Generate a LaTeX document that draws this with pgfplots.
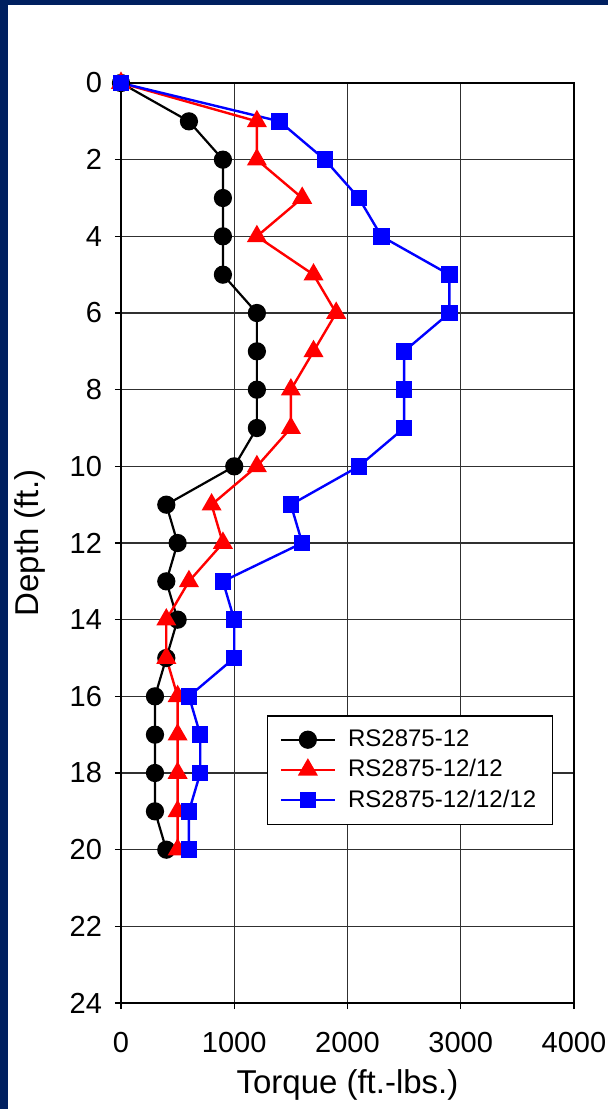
\documentclass[border=0pt]{standalone}
\usepackage{fontspec}
\setmainfont{Liberation Sans}
\usepackage{pgfplots}
\pgfplotsset{compat=1.18}
\definecolor{navy}{HTML}{002060}
\definecolor{gridc}{HTML}{303030}
\begin{document}
\begin{tikzpicture}[x=1pt,y=1pt]
\fill[navy] (0,0) rectangle (304,554.5);
\fill[white] (4,0) rectangle (304,552);
\begin{axis}[
  at={(60.5pt,53pt)}, anchor=south west,
  scale only axis, width=226.5pt, height=460pt,
  xmin=0, xmax=4000, ymin=0, ymax=24, y dir=reverse,
  xtick={0,1000,2000,3000,4000}, ytick={0,2,...,24},
  xtick pos=left, xticklabel pos=left, ytick pos=left,
  grid=major, major grid style={gridc, line width=0.7pt},
  axis line style={black, line width=0.7pt},
  tick style={black, line width=0.7pt},
  tick align=outside, major tick length=3pt,
  /pgf/number format/assume math mode=true,
  /pgf/number format/set thousands separator={},
  ticklabel style={font=\fontsize{14.5}{17}\selectfont},
  xticklabel style={yshift=-8pt},
  yticklabel style={xshift=-3pt},
  xlabel={Torque (ft.-lbs.)},
  ylabel={Depth (ft.)},
  xlabel style={font=\fontsize{16.5}{19}\selectfont, at={(axis description cs:0.5,0)}, anchor=center, yshift=-41pt},
  ylabel style={font=\fontsize{16.5}{19}\selectfont, at={(axis description cs:0,0.5)}, anchor=center, rotate=0, yshift=45.5pt},
  clip=false,
  legend style={at={(axis cs:1289,16.49)}, anchor=north west, draw=black, line width=0.7pt,
    font=\fontsize{12}{14}\selectfont, inner xsep=6pt, inner ysep=5pt, row sep=1pt, column sep=4pt},
  legend cell align=left,
  legend image code/.code={\draw[mark repeat=2,mark phase=2] plot coordinates {(0pt,0pt)(13.5pt,0pt)(27pt,0pt)};},
]
\addplot[black, line width=1.1pt, mark=*, mark size=4pt, mark options={solid}] coordinates {
(0,0)(600,1)(900,2)(900,3)(900,4)(900,5)(1200,6)(1200,7)(1200,8)(1200,9)(1000,10)
(400,11)(500,12)(400,13)(500,14)(400,15)(300,16)(300,17)(300,18)(300,19)(400,20)};
\addlegendentry{RS2875-12}
\addplot[red, line width=1.2pt, mark=triangle*, mark size=4.6pt, mark options={solid}] coordinates {
(0,0)(1200,1)(1200,2)(1600,3)(1200,4)(1700,5)(1900,6)(1700,7)(1500,8)(1500,9)(1200,10)
(800,11)(900,12)(600,13)(400,14)(400,15)(500,16)(500,17)(500,18)(500,19)(500,20)};
\addlegendentry{RS2875-12/12}
\addplot[blue, line width=1.2pt, mark=square*, mark size=3.5pt, mark options={solid}] coordinates {
(0,0)(1400,1)(1800,2)(2100,3)(2300,4)(2900,5)(2900,6)(2500,7)(2500,8)(2500,9)(2100,10)
(1500,11)(1600,12)(900,13)(1000,14)(1000,15)(600,16)(700,17)(700,18)(600,19)(600,20)};
\addlegendentry{RS2875-12/12/12}
\end{axis}
\end{tikzpicture}
\end{document}
